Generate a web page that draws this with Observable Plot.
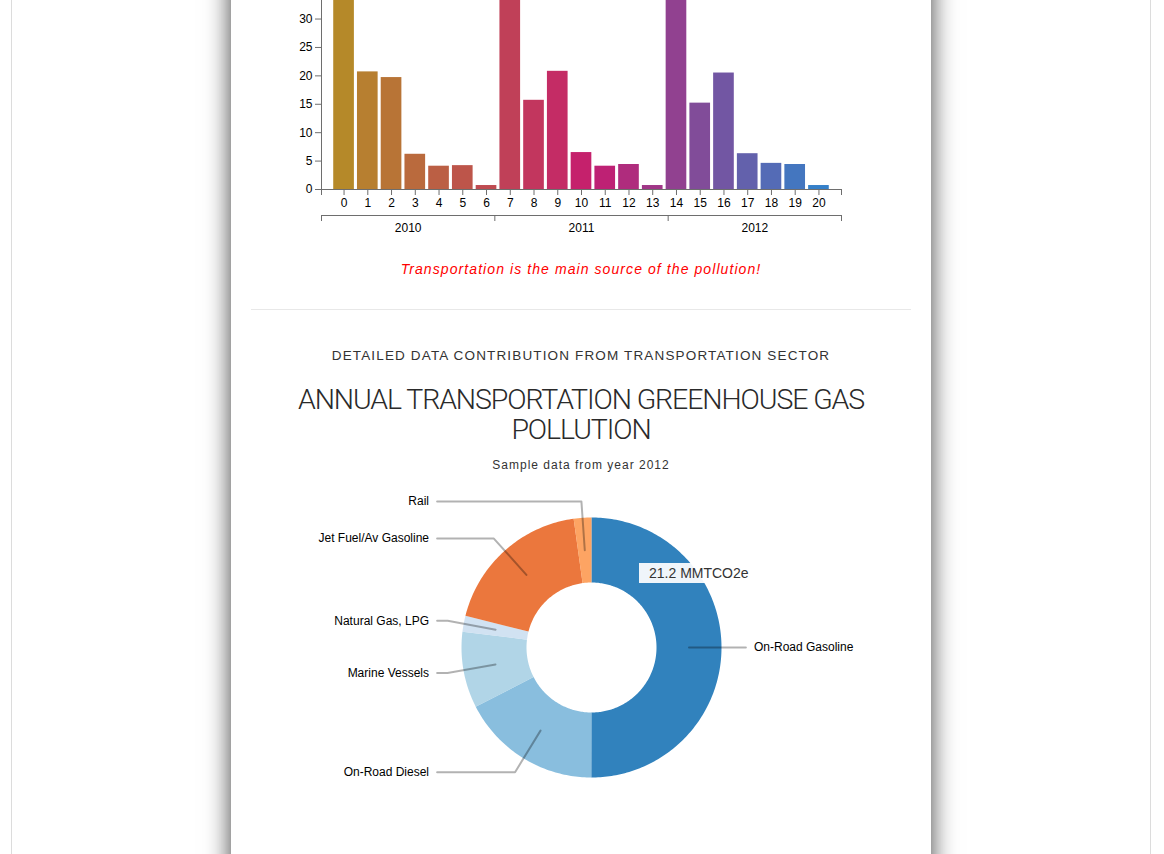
<!DOCTYPE html>
<html>
<head>
<meta charset="utf-8">
<script src="https://cdn.jsdelivr.net/npm/d3@7"></script>
<script src="https://cdn.jsdelivr.net/npm/@observablehq/plot@0.6"></script>
<style>
  html, body { margin:0; padding:0; background:#fff; width:1164px; height:854px; overflow:hidden; }
  body { position:relative; font-family:"Liberation Sans", Arial, Helvetica, sans-serif; color:#333; }
  .abs { position:absolute; }
  #frame { left:11px; top:-20px; width:1138px; height:920px; border-left:1px solid #dcdcdc; border-right:1px solid #dcdcdc; }
  #card { left:231px; top:-300px; width:700px; height:1400px; background:#fff; box-shadow:0 0 24px rgba(0,0,0,0.75); }
  .center { left:231px; width:700px; text-align:center; white-space:nowrap; }
  #caption { top:259px; line-height:20px; font-size:14px; font-style:italic; letter-spacing:1.08px; color:#f00; }
  #divider { left:251px; top:309px; width:660px; height:1px; background:#e8e8e8; }
  #heading { top:346px; line-height:20px; font-size:13.5px; letter-spacing:1.15px; color:#333; }
  .title { line-height:28px; height:28px; font-size:28.5px; font-family:Roboto, "Open Sans", sans-serif; font-weight:300; letter-spacing:-1.1px; color:#2a2a2a; }
  #title1 { top:386px; }
  #title2 { top:416px; }
  #subtitle { top:455px; line-height:20px; font-size:12px; letter-spacing:1px; color:#333; }
  #tooltip { left:639px; top:563px; width:100px; height:20px; padding-left:10px; line-height:20px; font-size:14px; color:#333; background:rgba(255,255,255,0.92); white-space:nowrap; }
  #bars, #years { left:281px; width:580px; }
  #bars { top:-81px; }
  #years { top:201px; }
  #donut { left:231px; top:480px; width:700px; }
</style>
</head>
<body>
<div id="frame" class="abs"></div>
<div id="card" class="abs"></div>
<div id="bars" class="abs"></div>
<div id="years" class="abs"></div>
<div id="caption" class="abs center">Transportation is the main source of the pollution!</div>
<div id="divider" class="abs"></div>
<div id="heading" class="abs center">DETAILED DATA CONTRIBUTION FROM TRANSPORTATION SECTOR</div>
<div id="title1" class="abs center title">ANNUAL TRANSPORTATION GREENHOUSE GAS</div>
<div id="title2" class="abs center title">POLLUTION</div>
<div id="subtitle" class="abs center">Sample data from year 2012</div>
<div id="donut" class="abs"></div>
<div id="tooltip" class="abs"></div>
<script>
// ---- data ----
const barValues = [43.5, 20.7, 19.7, 6.2, 4.1, 4.2, 0.7, 42.8, 15.7, 20.8, 6.5, 4.1, 4.4, 0.7, 42.4, 15.2, 20.5, 6.3, 4.6, 4.4, 0.7];
const years = ["2010", "2011", "2012"];
const yTicks = [0, 5, 10, 15, 20, 25, 30];
const sliceNames = ["On-Road Gasoline", "On-Road Diesel", "Marine Vessels", "Natural Gas, LPG", "Jet Fuel/Av Gasoline", "Rail"];
const sliceValues = [21.2, 7.4, 4.0, 0.85, 8.0, 0.93];
const unit = "MMTCO2e";
const hovered = "On-Road Gasoline";

// ---- styling ----
const font = '"Liberation Sans", Arial, Helvetica, sans-serif';
const axisColor = "#6e6e6e";
const baseStyle = {background: "transparent", fontFamily: font, fontSize: "12px", color: "#000", overflow: "visible"};

// ---- bar chart ----
const n = barValues.length;
const bars = barValues.map((v, i) => ({i, v}));
const xDomain = [-0.95, n - 0.05];
const half = 0.435;

const barPlot = Plot.plot({
  width: 580, height: 295, marginLeft: 40, marginRight: 20, marginTop: 20, marginBottom: 25,
  style: baseStyle,
  x: {domain: xDomain},
  y: {domain: [0, 44]},
  color: {type: "linear", domain: [0, n / 2, n], range: ["#B58929", "#C61C6F", "#268BD2"], interpolate: "rgb"},
  marks: [
    Plot.rectY(bars, {x1: d => d.i - half, x2: d => d.i + half, y1: 0, y2: "v", fill: "i"}),
    Plot.ruleY([0], {stroke: axisColor}),
    Plot.ruleX([xDomain[0]], {stroke: axisColor}),
    Plot.axisX(bars.map(d => d.i), {tickSize: 6, tickPadding: 3, tickFormat: d => String(d), stroke: axisColor, fill: "#000", label: null}),
    Plot.axisX(xDomain, {tickSize: 6, tickFormat: () => "", stroke: axisColor, label: null}),
    Plot.axisY(yTicks, {tickSize: 6, tickPadding: 3, tickFormat: d => String(d), stroke: axisColor, fill: "#000", label: null})
  ]
});
document.getElementById("bars").append(barPlot);

// ---- year axis ----
const yearPlot = Plot.plot({
  width: 580, height: 40, marginLeft: 40, marginRight: 20, marginTop: 14, marginBottom: 26,
  style: baseStyle,
  x: {domain: [0, years.length]},
  y: {domain: [0, 1], axis: null},
  marks: [
    Plot.ruleY([0], {stroke: axisColor}),
    Plot.axisX(d3.range(years.length + 1), {tickSize: 6, tickFormat: () => "", stroke: axisColor, label: null}),
    Plot.axisX(years.map((d, i) => i + 0.5), {tickSize: 0, tickPadding: 8, tickFormat: t => years[Math.floor(t)], fill: "#000", label: null})
  ]
});
document.getElementById("years").append(yearPlot);

// ---- donut ----
const pie = d3.pie().sort(null).value(d => d.value)(sliceNames.map((name, k) => ({name, value: sliceValues[k]})));
const R = 162.5, rOuter = R * 0.8, rInner = R * 0.4, rLabel = R * 0.9;
const pt = (a, r) => ({x: r * Math.sin(a), y: -r * Math.cos(a)});
const slicePts = pie.flatMap(s => {
  const span = s.endAngle - s.startAngle;
  const steps = Math.max(2, Math.ceil(span * 180 / Math.PI));
  const angles = d3.range(steps + 1).map(k => s.startAngle + span * k / steps);
  const outer = angles.map(a => pt(a, rOuter));
  const inner = angles.slice().reverse().map(a => pt(a, rInner));
  return [...outer, ...inner].map(p => ({...p, name: s.data.name}));
});
const labelRows = pie.map(s => {
  const mid = (s.startAngle + s.endAngle) / 2;
  const side = mid < Math.PI ? 1 : -1;
  const c = pt(mid, (rOuter + rInner) / 2);
  const e = pt(mid, rLabel);
  return {name: s.data.name, side, c, e, end: {x: side * R * 0.95, y: e.y}, lx: side * R, ly: e.y};
});
const linePts = labelRows.flatMap(r => [r.c, r.e, r.end].map(p => ({...p, name: r.name})));

const donutPlot = Plot.plot({
  width: 700, height: 330, margin: 0,
  style: baseStyle,
  x: {domain: [-360, 340], axis: null},
  y: {domain: [-167, 163], reverse: true, axis: null},
  color: {domain: sliceNames, range: ["#3182bd", "#6baed6", "#9ecae1", "#c6dbef", "#e6550d", "#fd8d3c"]},
  marks: [
    Plot.line(slicePts, {x: "x", y: "y", z: "name", fill: "name", fillOpacity: d => d.name === hovered ? 1 : 0.8, stroke: "none"}),
    Plot.line(linePts, {x: "x", y: "y", z: "name", stroke: "black", strokeOpacity: 0.3, strokeWidth: 2}),
    Plot.text(labelRows.filter(r => r.side > 0), {x: "lx", y: "ly", text: "name", textAnchor: "start", fontSize: 12, fill: "#000"}),
    Plot.text(labelRows.filter(r => r.side < 0), {x: "lx", y: "ly", text: "name", textAnchor: "end", fontSize: 12, fill: "#000"})
  ]
});
document.getElementById("donut").append(donutPlot);

document.getElementById("tooltip").textContent = `${sliceValues[sliceNames.indexOf(hovered)]} ${unit}`;
</script>
</body>
</html>
